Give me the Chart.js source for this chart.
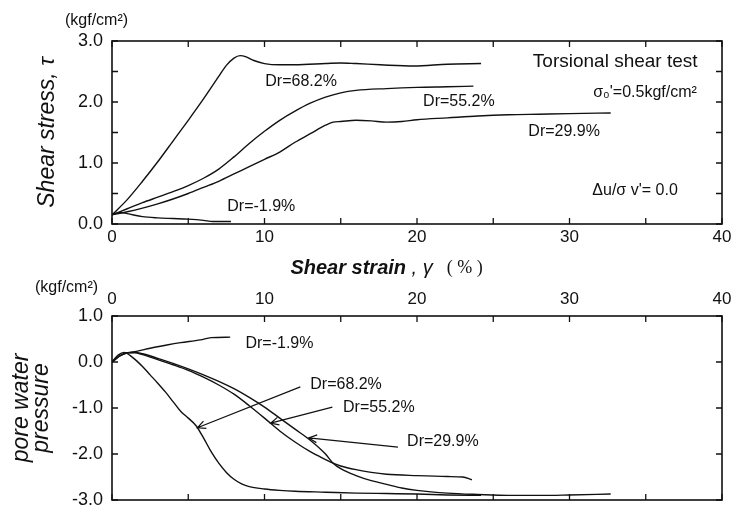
<!DOCTYPE html>
<html>
<head>
<meta charset="utf-8">
<script src="https://cdn.jsdelivr.net/npm/chart.js@4.4.1/dist/chart.umd.min.js"></script>
<style>
  html, body { margin: 0; padding: 0; background: #fff; overflow: hidden; }
  #wrap { position: relative; width: 733px; height: 507px; overflow: hidden; }
  #top { position: absolute; left: 0; top: 0; }
  #bottom { position: absolute; left: 0; top: 250px; }
</style>
</head>
<body>
<div id="wrap">
  <canvas id="top" width="733" height="250"></canvas>
  <canvas id="bottom" width="733" height="270"></canvas>
</div>
<script>
// shear stress tau (kgf/cm2) against shear strain gamma (%)
const tauStrain68 = [0, 1, 2, 3, 4, 5, 6, 7, 7.5, 8, 8.4, 8.8, 9.3, 10, 11, 12, 14, 15, 16, 17.6, 19.8, 22, 24.2];
const tau68 = [0.15, 0.4, 0.7, 1.02, 1.36, 1.7, 2.05, 2.42, 2.6, 2.72, 2.76, 2.74, 2.68, 2.63, 2.61, 2.61, 2.63, 2.64, 2.63, 2.61, 2.59, 2.62, 2.63];
const tauStrain55 = [0, 1, 2, 3, 4, 5, 6, 7, 8, 9, 10, 11, 12, 13, 14, 15, 16, 18, 20, 22, 23.7];
const tau55 = [0.15, 0.25, 0.35, 0.44, 0.53, 0.63, 0.75, 0.9, 1.1, 1.32, 1.52, 1.7, 1.85, 1.98, 2.08, 2.15, 2.19, 2.22, 2.24, 2.25, 2.26];
const tauStrain30 = [0, 1, 2, 3, 4, 5, 6, 7, 8, 9, 10, 11, 12, 13, 14, 14.5, 15, 16, 17, 18, 19, 20, 22, 24, 26, 28, 30, 32.7];
const tau30 = [0.15, 0.2, 0.26, 0.33, 0.41, 0.5, 0.6, 0.7, 0.82, 0.94, 1.06, 1.18, 1.34, 1.48, 1.62, 1.67, 1.68, 1.7, 1.69, 1.67, 1.68, 1.71, 1.74, 1.77, 1.79, 1.8, 1.81, 1.82];
const tauStrainM2 = [0, 0.5, 1, 2, 3, 4, 5, 6, 6.6, 7.8];
const tauM2 = [0.15, 0.19, 0.17, 0.12, 0.1, 0.09, 0.08, 0.06, 0.04, 0.04];

// pore water pressure (kgf/cm2) against shear strain gamma (%)
const puStrain68 = [0, 0.4, 0.8, 1.2, 1.6, 2, 2.5, 3, 3.5, 4, 4.5, 5, 5.5, 6, 6.5, 7, 7.5, 8, 8.5, 9, 10, 11, 12, 14, 16, 18, 20, 22, 24.2];
const pu68 = [0, 0.15, 0.21, 0.14, 0.03, -0.1, -0.28, -0.46, -0.65, -0.86, -1.07, -1.22, -1.38, -1.65, -1.95, -2.2, -2.4, -2.55, -2.65, -2.71, -2.76, -2.79, -2.81, -2.83, -2.85, -2.86, -2.87, -2.89, -2.9];
const puStrain55 = [0, 0.5, 1, 1.5, 2, 3, 4, 5, 6, 7, 8, 9, 10, 11, 12, 13, 14, 14.5, 15, 16, 17, 18, 20, 22, 23, 23.6];
const pu55 = [0, 0.13, 0.2, 0.2, 0.16, 0.05, -0.06, -0.18, -0.33, -0.5, -0.7, -0.95, -1.22, -1.5, -1.74, -1.95, -2.12, -2.2, -2.26, -2.34, -2.4, -2.44, -2.47, -2.49, -2.5, -2.56];
const puStrain30 = [0, 0.5, 1, 1.5, 2, 3, 4, 5, 6, 7, 8, 9, 10, 11, 12, 13, 14, 14.5, 15, 16, 17, 18, 19, 20, 22, 24, 26, 28, 30, 32.7];
const pu30 = [0, 0.13, 0.2, 0.21, 0.18, 0.08, -0.03, -0.15, -0.28, -0.42, -0.58, -0.77, -0.98, -1.22, -1.46, -1.7, -2.0, -2.2, -2.32, -2.47, -2.58, -2.66, -2.74, -2.79, -2.85, -2.88, -2.9, -2.9, -2.89, -2.87];
const puStrainM2 = [0, 0.5, 1, 1.6, 2.5, 3.6, 4.5, 5.8, 6.5, 7.75];
const puM2 = [0, 0.13, 0.2, 0.23, 0.3, 0.37, 0.42, 0.48, 0.53, 0.54];

// labels in data units: [text, strain, value, align]
const topNotes = [
  ["Dr=68.2%", 10.05, 2.33, "left"],
  ["Dr=55.2%", 20.4, 2.0, "left"],
  ["Dr=29.9%", 27.3, 1.51, "left"],
  ["Dr=-1.9%", 7.56, 0.28, "left"],
  ["Torsional shear test", 38.4, 2.66, "right"],
  ["\u03c3\u2080'=0.5kgf/cm\u00b2", 38.35, 2.15, "right"],
  ["\u0394u/\u03c3 v'= 0.0", 37.1, 0.54, "right"],
];
const bottomNotes = [
  ["Dr=-1.9%", 8.75, 0.39, "left"],
  ["Dr=68.2%", 13.0, -0.5, "left"],
  ["Dr=55.2%", 15.15, -1.0, "left"],
  ["Dr=29.9%", 19.35, -1.74, "left"],
];
// arrows: [fromStrain, fromValue, toStrain, toValue]
const bottomArrows = [
  [12.35, -0.54, 5.6, -1.43],
  [14.45, -0.98, 10.4, -1.33],
  [18.75, -1.85, 12.9, -1.65],
];

const ink = "#111";
const fontName = "'Liberation Sans', Arial, sans-serif";

const toPoints = (xs, ys) => xs.map((x, i) => ({ x: x, y: ys[i] }));

const line = (xs, ys) => ({
  data: toPoints(xs, ys),
  borderColor: ink,
  borderWidth: 1.4,
  pointRadius: 0,
  fill: false,
  cubicInterpolationMode: "monotone",
});

// frame round the plot and inward ticks on all four sides
const frameTicks = {
  id: "frameTicks",
  afterDraw(chart) {
    const { ctx, chartArea: a, scales: { x, y } } = chart;
    ctx.save();
    ctx.strokeStyle = ink;
    ctx.lineWidth = 1.6;
    ctx.strokeRect(a.left, a.top, a.right - a.left, a.bottom - a.top);
    ctx.lineWidth = 1.3;
    ctx.beginPath();
    x.ticks.forEach((t) => {
      const px = x.getPixelForValue(t.value);
      ctx.moveTo(px, a.top);
      ctx.lineTo(px, a.top + 6);
      ctx.moveTo(px, a.bottom);
      ctx.lineTo(px, a.bottom - 6);
    });
    y.ticks.forEach((t) => {
      const py = y.getPixelForValue(t.value);
      ctx.moveTo(a.left, py);
      ctx.lineTo(a.left + 6, py);
      ctx.moveTo(a.right, py);
      ctx.lineTo(a.right - 6, py);
    });
    ctx.stroke();
    ctx.restore();
  },
};

const notes = {
  id: "notes",
  afterDraw(chart, args, opts) {
    const { ctx, chartArea: a, scales: { x, y } } = chart;
    ctx.save();
    ctx.fillStyle = ink;
    ctx.strokeStyle = ink;
    ctx.textBaseline = "middle";
    (opts.items || []).forEach(([text, sx, sy, align]) => {
      ctx.textAlign = align;
      ctx.font = (text.startsWith("Torsional") ? "19px " : "16px ") + fontName;
      ctx.fillText(text, x.getPixelForValue(sx), y.getPixelForValue(sy));
    });
    ctx.lineWidth = 1.2;
    (opts.arrows || []).forEach(([x0, y0, x1, y1]) => {
      const ax = x.getPixelForValue(x0), ay = y.getPixelForValue(y0);
      const bx = x.getPixelForValue(x1), by = y.getPixelForValue(y1);
      const ang = Math.atan2(by - ay, bx - ax);
      ctx.beginPath();
      ctx.moveTo(ax, ay);
      ctx.lineTo(bx, by);
      ctx.moveTo(bx - 9 * Math.cos(ang - 0.45), by - 9 * Math.sin(ang - 0.45));
      ctx.lineTo(bx, by);
      ctx.lineTo(bx - 9 * Math.cos(ang + 0.45), by - 9 * Math.sin(ang + 0.45));
      ctx.stroke();
    });
    // unit label above the value axis
    ctx.textAlign = "left";
    ctx.font = "16px " + fontName;
    ctx.fillText("(kgf/cm\u00b2)", opts.unitX, a.top - opts.unitDy);
    // strain title between the two plots
    if (opts.strainTitle) {
      let px = x.getPixelForValue(11.7);
      const py = a.top - 48;
      ctx.font = "italic bold 20px " + fontName;
      ctx.fillText("Shear strain", px, py);
      px += ctx.measureText("Shear strain").width;
      ctx.font = "italic 20px " + fontName;
      ctx.fillText(" , \u03b3", px, py);
      px += ctx.measureText(" , \u03b3").width + 14;
      ctx.font = "18px 'Liberation Serif', serif";
      ctx.fillText("( % )", px, py);
    }
    ctx.restore();
  },
};

const strainAxis = (position, pad, height) => ({
  type: "linear",
  position: position,
  min: 0,
  max: 40,
  grid: { display: false, drawTicks: false },
  border: { display: false },
  ticks: {
    stepSize: 5,
    padding: pad,
    color: ink,
    font: { family: fontName, size: 17 },
    callback: (v) => (v % 10 === 0 ? String(v) : ""),
  },
  afterFit: (scale) => {
    scale.height = height;
    scale.paddingLeft = 0;
    scale.paddingRight = 0;
  },
});

const valueAxis = (min, max, title, titleFont, titlePad) => ({
  type: "linear",
  min: min,
  max: max,
  grid: { display: false, drawTicks: false },
  border: { display: false },
  ticks: {
    stepSize: 0.5,
    padding: 9,
    color: ink,
    font: { family: fontName, size: 18 },
    callback: (v) => (Number.isInteger(v) ? v.toFixed(1) : ""),
  },
  title: {
    display: true,
    text: title,
    color: ink,
    font: titleFont,
    padding: { top: titlePad, bottom: 0 },
  },
  afterFit: (scale) => { scale.width = 112; },
});

new Chart(document.getElementById("top"), {
  type: "line",
  data: {
    datasets: [
      line(tauStrain68, tau68),
      line(tauStrain55, tau55),
      line(tauStrain30, tau30),
      line(tauStrainM2, tauM2),
    ],
  },
  options: {
    responsive: false,
    animation: false,
    layout: { padding: { top: 41, right: 11, left: 0, bottom: 0 } },
    scales: {
      x: strainAxis("bottom", 3, 26),
      y: valueAxis(0, 3, "Shear stress, \u03c4", { family: fontName, size: 23, style: "italic" }, 34),
    },
    plugins: {
      legend: { display: false },
      tooltip: { enabled: false },
      notes: { items: topNotes, unitX: 65, unitDy: 20 },
    },
  },
  plugins: [frameTicks, notes],
});

new Chart(document.getElementById("bottom"), {
  type: "line",
  data: {
    datasets: [
      line(puStrain68, pu68),
      line(puStrain55, pu55),
      line(puStrain30, pu30),
      line(puStrainM2, puM2),
    ],
  },
  options: {
    responsive: false,
    animation: false,
    layout: { padding: { top: 0, right: 11, left: 0, bottom: 20 } },
    scales: {
      x: strainAxis("top", 6, 66),
      y: valueAxis(-3, 1, ["pore water", "pressure"], { family: fontName, size: 23, style: "italic", lineHeight: 0.85 }, 12),
    },
    plugins: {
      legend: { display: false },
      tooltip: { enabled: false },
      notes: { items: bottomNotes, arrows: bottomArrows, unitX: 35, unitDy: 28, strainTitle: true },
    },
  },
  plugins: [frameTicks, notes],
});
</script>
</body>
</html>
